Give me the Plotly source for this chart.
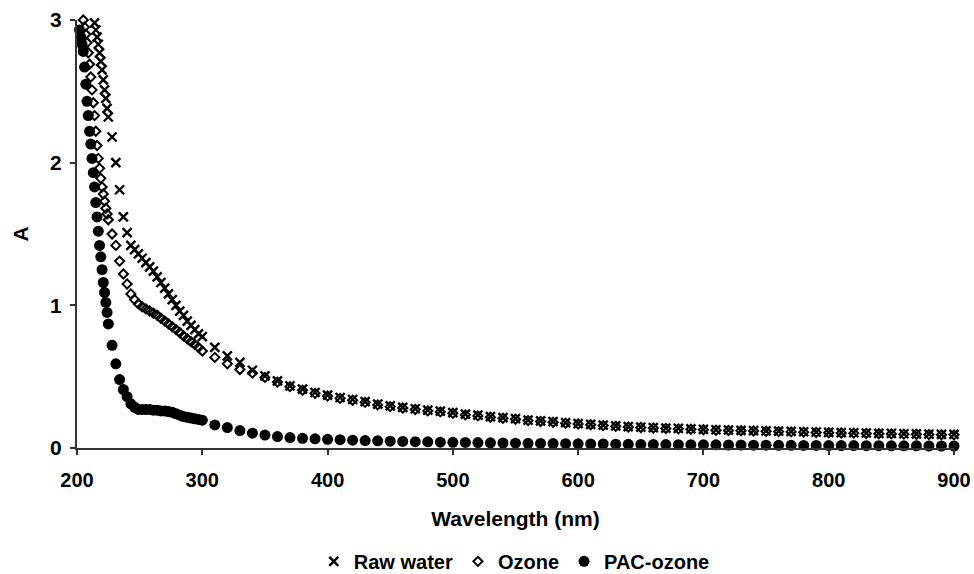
import plotly.graph_objects as go

# Wavelength grid (nm)
wavelength = list(range(200, 226, 1)) + list(range(228, 301, 3)) + list(range(310, 901, 10))

raw_water = [None]*14 + [2.98, 2.93, 2.88, 2.83, 2.77, 2.71, 2.65, 2.58, 2.51, 2.45, 2.38, 2.32] + \
    [2.18, 2.0, 1.81, 1.62, 1.51, 1.42, 1.39, 1.36, 1.33, 1.30, 1.27, 1.24, 1.20, 1.16, 1.12, 1.08,
     1.04, 1.00, 0.96, 0.93, 0.89, 0.86, 0.83, 0.80, 0.78] + \
    [.705, .646, .6, .545, .506, .47, .436, .412, .389, .37,
     .354, .34, .325, .307, .295, .285, .275, .265, .258, .248,
     .237, .23, .22, .213, .206, .196, .19, .185, .178, .171,
     .166, .16, .155, .15, .147, .143, .14, .137, .134, .131,
     .128, .126, .124, .122, .12, .118, .116, .114, .112, .11,
     .108, .107, .105, .103, .102, .1, .099, .097, .096, .095]

ozone = [None]*5 + [3.0, 2.95, 2.9, 2.84, 2.77, 2.69, 2.6, 2.51, 2.42, 2.33, 2.22, 2.12, 2.03, 1.96,
                    1.89, 1.83, 1.78, 1.73, 1.68, 1.64, 1.6] + \
    [1.5, 1.42, 1.31, 1.22, 1.15, 1.08, 1.04, 1.01, 0.99, 0.975, 0.96, 0.945, 0.93, 0.91, 0.89,
     0.87, 0.85, 0.83, 0.81, 0.785, 0.765, 0.745, 0.725, 0.705, 0.68] + \
    [.635, .59, .55, .525, .495, .462, .43, .405, .383, .364,
     .348, .335, .32, .302, .29, .28, .27, .26, .253, .243,
     .232, .225, .216, .209, .202, .192, .186, .181, .174, .168,
     .163, .157, .152, .147, .144, .14, .137, .134, .131, .128,
     .125, .123, .121, .119, .117, .115, .113, .111, .109, .107,
     .105, .104, .102, .1, .099, .097, .096, .094, .093, .092]

pac_ozone = [None]*2 + [2.93, 2.88, 2.83, 2.78, 2.67, 2.55, 2.43, 2.33, 2.22, 2.13, 2.03, 1.93, 1.83,
                        1.72, 1.62, 1.52, 1.42, 1.34, 1.25, 1.16, 1.09, 1.02, 0.95, 0.87] + \
    [0.72, 0.59, 0.48, 0.41, 0.36, 0.31, 0.285, 0.27, 0.27, 0.27, 0.27, 0.265, 0.265, 0.26, 0.26,
     0.255, 0.25, 0.24, 0.23, 0.22, 0.215, 0.21, 0.205, 0.2, 0.195] + \
    [.162, .143, .122, .104, .091, .08, .073, .068, .064, .061,
     .058, .055, .052, .05, .048, .046, .044, .043, .041, .04,
     .039, .038, .036, .035, .034, .033, .032, .031, .03, .029,
     .028, .028, .027, .026, .025, .025, .024, .023, .023, .022,
     .022, .021, .021, .02, .02, .019, .019, .018, .018, .017,
     .017, .017, .016, .016, .015, .015, .015, .014, .014, .014]

x_ticks = [200, 300, 400, 500, 600, 700, 800, 900]
y_ticks = [0, 1, 2, 3]

FONT = "Liberation Sans, Arial, sans-serif"

fig = go.Figure()
fig.add_trace(go.Scatter(x=wavelength, y=raw_water, mode="markers", name="<b>Raw water</b>",
                         marker=dict(symbol="x-thin", size=9, line=dict(color="black", width=2.4)),
                         cliponaxis=False))
fig.add_trace(go.Scatter(x=wavelength, y=ozone, mode="markers", name="<b>Ozone</b>",
                         marker=dict(symbol="diamond-open", size=7, color="black", line=dict(color="black", width=2)),
                         cliponaxis=False))
fig.add_trace(go.Scatter(x=wavelength, y=pac_ozone, mode="markers", name="<b>PAC-ozone</b>",
                         marker=dict(symbol="circle", size=11, color="black"),
                         cliponaxis=False))

fig.update_layout(
    width=974, height=574,
    margin=dict(l=77, r=20, t=20, b=126, autoexpand=False),
    paper_bgcolor="white", plot_bgcolor="white",
    font=dict(family=FONT, size=20, color="black"),
    showlegend=True,
    legend=dict(orientation="h", x=0.528, xanchor="center", y=0.022, yanchor="middle",
                xref="container", yref="container",
                font=dict(family=FONT, size=20, color="black"), itemwidth=30,
                tracegroupgap=0, bgcolor="rgba(0,0,0,0)"),
    xaxis=dict(range=[200, 900], tickvals=x_ticks, ticktext=[f"<b>{v}</b>" for v in x_ticks],
               showgrid=False, zeroline=False, showline=True, linecolor="#333", linewidth=2,
               ticks="outside", ticklen=5, tickwidth=2, tickcolor="#333",
               ticklabelstandoff=8, automargin=False, tickfont=dict(size=20),
               ticklabeloverflow="allow",
               title=dict(text="<b>Wavelength (nm)</b>", standoff=21, font=dict(size=21))),
    yaxis=dict(range=[0, 3], tickvals=y_ticks, ticktext=[f"<b>{v}</b>" for v in y_ticks],
               showgrid=False, zeroline=False, showline=True, linecolor="#333", linewidth=2,
               ticks="outside", ticklen=5, tickwidth=2, tickcolor="#333",
               ticklabelstandoff=4, automargin=False, tickfont=dict(size=21),
               ticklabeloverflow="allow",
               title=dict(text="<b>A</b>", standoff=16, font=dict(size=21))),
)

fig.write_html("out.html")
